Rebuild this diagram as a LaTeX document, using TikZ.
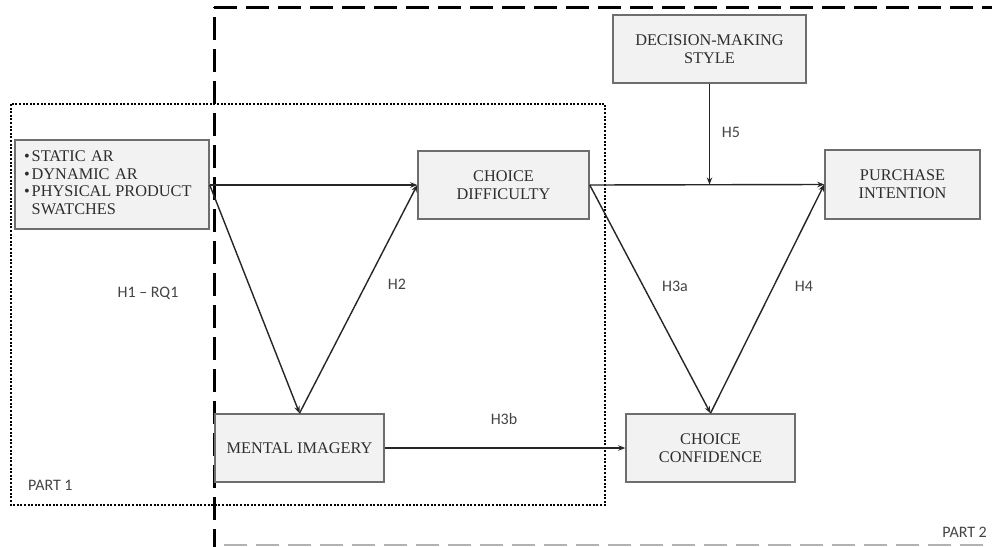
\documentclass[tikz,border=0pt]{standalone}
\usepackage{fontspec}
\setmainfont{Liberation Serif}
\newfontfamily\lblfont{Carlito}
\usetikzlibrary{arrows.meta}
\definecolor{boxfill}{HTML}{F2F2F2}
\definecolor{boxline}{HTML}{6E6E6E}
\definecolor{boxtxt}{HTML}{2E2E2E}
\definecolor{lbltxt}{HTML}{444444}
\begin{document}
\begin{tikzpicture}[x=1pt,y=-1pt,
  box/.style={draw=boxline, line width=1.5pt, fill=boxfill, inner sep=0pt, align=center,
    text=boxtxt, font=\fontsize{16.3}{17.8}\selectfont},
  arr/.style={draw=black!85, line width=1.4pt, -{Stealth[length=7pt,width=5.5pt]}},
  lbl/.style={font=\lblfont\fontsize{16}{18}\selectfont, text=lbltxt, inner sep=0pt},
  parttwo/.style={line width=3pt, dash pattern=on 23pt off 9pt},
  partone/.style={line width=2.2pt, dash pattern=on 2pt off 1.6pt}
]
\useasboundingbox (0,0) rectangle (992,546);
\fill[white] (0,0) rectangle (992,546);
% PART 2 dashed frame (runs past the picture on the right and bottom)
\begin{scope}
  \clip (0,0) rectangle (992,546);
  \draw[parttwo] (214,7) -- (1000,7);
  \draw[parttwo, dash phase=-10pt] (214,7) -- (214,560);
  \draw[parttwo, draw=gray!60, line width=2pt] (224,545) -- (1000,545);
\end{scope}
% PART 1 dotted frame
\draw[partone] (11,104) rectangle (605,505);

% Boxes
\node[box, minimum width=194pt, minimum height=89pt, text width=176pt, inner xsep=9pt, align=left] (inp) at (112,184.5)
  {\begin{tabular}{@{}l@{\hspace{2pt}}l@{}}\textbullet&STATIC AR\\ \textbullet&DYNAMIC AR\\ \textbullet&PHYSICAL\hspace{4pt}PRODUCT\\ &SWATCHES\end{tabular}};
\node[box, minimum width=171pt, minimum height=68pt] (cd) at (503.5,185) {CHOICE\\DIFFICULTY};
\node[box, minimum width=193pt, minimum height=68pt] (dms) at (709.5,49) {DECISION-MAKING\\STYLE};
\node[box, minimum width=155pt, minimum height=69pt] (pi) at (902.5,184.5) {PURCHASE\\INTENTION};
\node[box, minimum width=169pt, minimum height=68pt] (mi) at (299.5,448) {MENTAL IMAGERY};
\node[box, minimum width=169pt, minimum height=68pt] (cc) at (710.5,448) {CHOICE\\CONFIDENCE};

% Connectors
\draw[arr] (inp.east |- cd.west) -- (cd.west);
\draw[arr] (inp.east |- cd.west) -- (mi.north);
\draw[arr] (mi.north) -- (cd.west);
\draw[arr] (cd.east) -- (pi.west);
\coordinate (mod) at (dms.south |- pi.west);
\draw[arr] (dms.south) -- (mod);
\draw[arr] (cd.east) -- (cc.north);
\draw[arr] (cc.north) -- (pi.west);
\draw[arr] (mi.east) -- (cc.west);

% Labels
\node[lbl] (h1) at (148,293) {H1 – RQ1};
\node[lbl] (h2) at (397,284) {H2};
\node[lbl] (h3a) at (675,286) {H3a};
\node[lbl] (h4) at (804,286) {H4};
\node[lbl] (h5) at (731,132) {H5};
\node[lbl] (h3b) at (504,419) {H3b};
\node[lbl, anchor=west] (p1) at (28,485) {PART 1};
\node[lbl, anchor=east] (p2) at (987,532) {PART 2};
\end{tikzpicture}
\end{document}
